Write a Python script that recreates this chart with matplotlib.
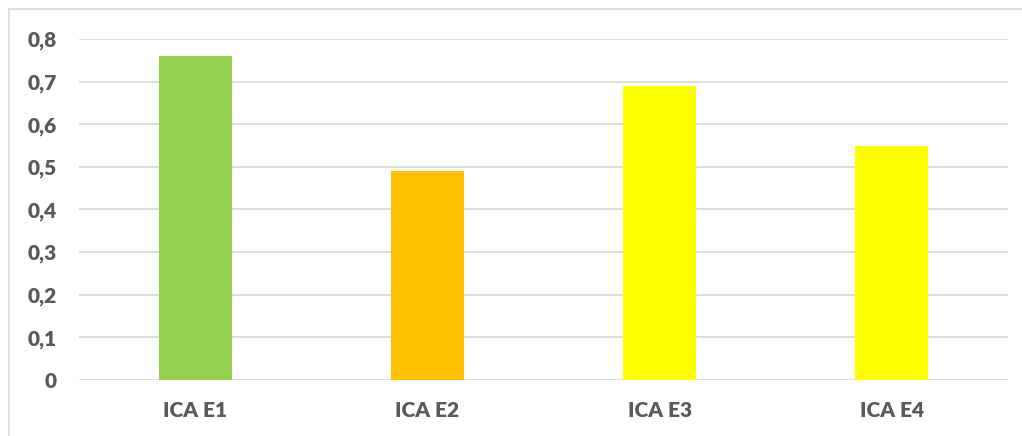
import matplotlib
matplotlib.use("Agg")
import matplotlib.pyplot as plt
from matplotlib.lines import Line2D

categories = ["ICA E1", "ICA E2", "ICA E3", "ICA E4"]
values = [0.76, 0.49, 0.69, 0.55]
colors = ["#92D050", "#FFC000", "#FFFF00", "#FFFF00"]
yticks = [0, 0.1, 0.2, 0.3, 0.4, 0.5, 0.6, 0.7, 0.8]
ytick_labels = ["0", "0,1", "0,2", "0,3", "0,4", "0,5", "0,6", "0,7", "0,8"]

W, H = 1022, 436
fig = plt.figure(figsize=(W / 100, H / 100), dpi=100)
fig.patch.set_facecolor("white")

# chart border (left + top visible)
fig.add_artist(Line2D([8.5 / W, 8.5 / W], [0, 1 - 9.5 / H], transform=fig.transFigure,
                      color="#D9D9D9", lw=1.2))
fig.add_artist(Line2D([8.5 / W, 1], [1 - 9.5 / H, 1 - 9.5 / H], transform=fig.transFigure,
                      color="#D9D9D9", lw=1.2))

left, right = 79 / W, 1008 / W
bottom, top = (H - 380) / H, (H - 39) / H
ax = fig.add_axes([left, bottom, right - left, top - bottom])

x = range(len(categories))
ax.bar(x, values, width=0.315, color=colors, zorder=3)
ax.set_xlim(-0.5, len(categories) - 0.5)
ax.set_ylim(0, 0.8)
ax.set_yticks(yticks)
ax.set_yticklabels(ytick_labels)
ax.set_xticks(list(x))
ax.set_xticklabels(categories)

for s in ax.spines.values():
    s.set_visible(False)
ax.grid(axis="y", color="#D9D9D9", lw=1.2, zorder=0)
ax.tick_params(axis="both", length=0, colors="#595959")
ax.tick_params(axis="y", pad=16)
ax.tick_params(axis="x", pad=15)
for lab in ax.get_xticklabels() + ax.get_yticklabels():
    lab.set_fontfamily(["Lato", "DejaVu Sans"])
    lab.set_fontweight("heavy")
    lab.set_fontsize(15)
    lab.set_color("#595959")

fig.savefig("out.png", dpi=100, facecolor="white")
